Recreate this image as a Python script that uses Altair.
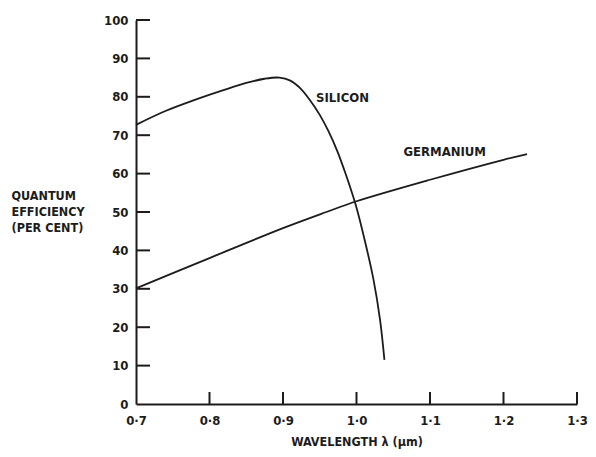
import altair as alt
import pandas as pd

FONT = "'Liberation Sans Narrow', 'DejaVu Sans Condensed', 'Roboto Condensed', sans-serif"
INK = "#1c1c1c"

# Silicon curve (wavelength um, quantum efficiency %)
si_x = [0.70, 0.74, 0.78, 0.82, 0.85, 0.875, 0.895, 0.910, 0.923, 0.936, 0.950, 0.962, 0.974, 0.986, 0.999, 1.012, 1.023, 1.032, 1.038]
si_y = [72.7, 76.3, 79.2, 81.8, 83.6, 84.7, 85.0, 84.2, 82.3, 79.3, 75.3, 71.0, 65.8, 59.5, 51.8, 42.0, 32.5, 22.0, 11.5]

# Germanium curve
ge_x = [0.70, 0.80, 0.90, 0.959, 1.00, 1.10, 1.20, 1.232]
ge_y = [30.1, 38.0, 45.8, 50.0, 52.8, 58.4, 63.6, 65.1]

# Curve labels
lab_text = ["SILICON", "GERMANIUM"]
lab_x = [0.981, 1.120]
lab_y = [79.7, 65.6]

# Axis ticks
x_ticks = [0.7, 0.8, 0.9, 1.0, 1.1, 1.2, 1.3]
y_ticks = [0, 10, 20, 30, 40, 50, 60, 70, 80, 90, 100]

curves = pd.DataFrame(
    {"x": si_x + ge_x, "y": si_y + ge_y,
     "s": ["Silicon"] * len(si_x) + ["Germanium"] * len(ge_x)}
)
labels = pd.DataFrame({"t": lab_text, "x": lab_x, "y": lab_y})
xt = pd.DataFrame({"v": x_ticks[1:]})
yt = pd.DataFrame({"v": y_ticks[1:]})

W, H = 441, 384

xscale = alt.Scale(domain=[0.7, 1.3], nice=False, zero=False)
yscale = alt.Scale(domain=[0, 100], nice=False)

xaxis = alt.Axis(
    values=x_ticks, ticks=False, grid=False, domainWidth=2, domainColor=INK,
    labelExpr="replace(format(datum.value, '.1f'), '.', '·')",
    labelFont=FONT, labelFontSize=13, labelFontWeight="bold", labelColor=INK,
    labelPadding=10, labelFlush=False, labelOverlap=False,
    title="WAVELENGTH λ  (μm)", titleFont=FONT, titleFontSize=12.5, titleFontWeight="bold",
    titleColor=INK, titleY=41, titleBaseline="alphabetic",
)
yaxis = alt.Axis(
    values=y_ticks, ticks=False, grid=False, domainWidth=2, domainColor=INK,
    labelFont=FONT, labelFontSize=13, labelFontWeight="bold", labelColor=INK,
    labelPadding=8, labelFlush=False, labelOverlap=False,
    title=["QUANTUM", "EFFICIENCY", "(PER CENT)"], titleAngle=0, titleAlign="left",
    titleBaseline="alphabetic", titleX=-125, titleY=179, titleFont=FONT,
    titleFontSize=12.5, titleFontWeight="bold", titleColor=INK, titleLineHeight=16,
)

base = alt.Chart(curves)
lines = base.mark_line(color=INK, strokeWidth=1.8, interpolate="catmull-rom").encode(
    x=alt.X("x:Q", scale=xscale, axis=xaxis),
    y=alt.Y("y:Q", scale=yscale, axis=yaxis),
    detail="s:N",
)

ytick_marks = alt.Chart(yt).mark_rule(color=INK, strokeWidth=2).encode(
    y=alt.Y("v:Q", scale=yscale, axis=yaxis), x=alt.value(0), x2=alt.value(14)
)
xtick_marks = alt.Chart(xt).mark_rule(color=INK, strokeWidth=2).encode(
    x=alt.X("v:Q", scale=xscale, axis=xaxis), y=alt.value(H), y2=alt.value(H - 12)
)

texts = alt.Chart(labels).mark_text(
    font=FONT, fontSize=13, fontWeight="bold", color=INK, align="center", baseline="middle"
).encode(
    x=alt.X("x:Q", scale=xscale, axis=xaxis),
    y=alt.Y("y:Q", scale=yscale, axis=yaxis),
    text="t:N",
)

chart = (
    alt.layer(lines, ytick_marks, xtick_marks, texts)
    .properties(
        width=W, height=H,
        autosize=alt.AutoSizeParams(type="none"),
        padding={"left": 128, "top": 12, "right": 11, "bottom": 45},
        background="white",
    )
    .configure_view(stroke=None)
)

chart.save("out.html", embed_options={"renderer": "svg", "actions": False})
